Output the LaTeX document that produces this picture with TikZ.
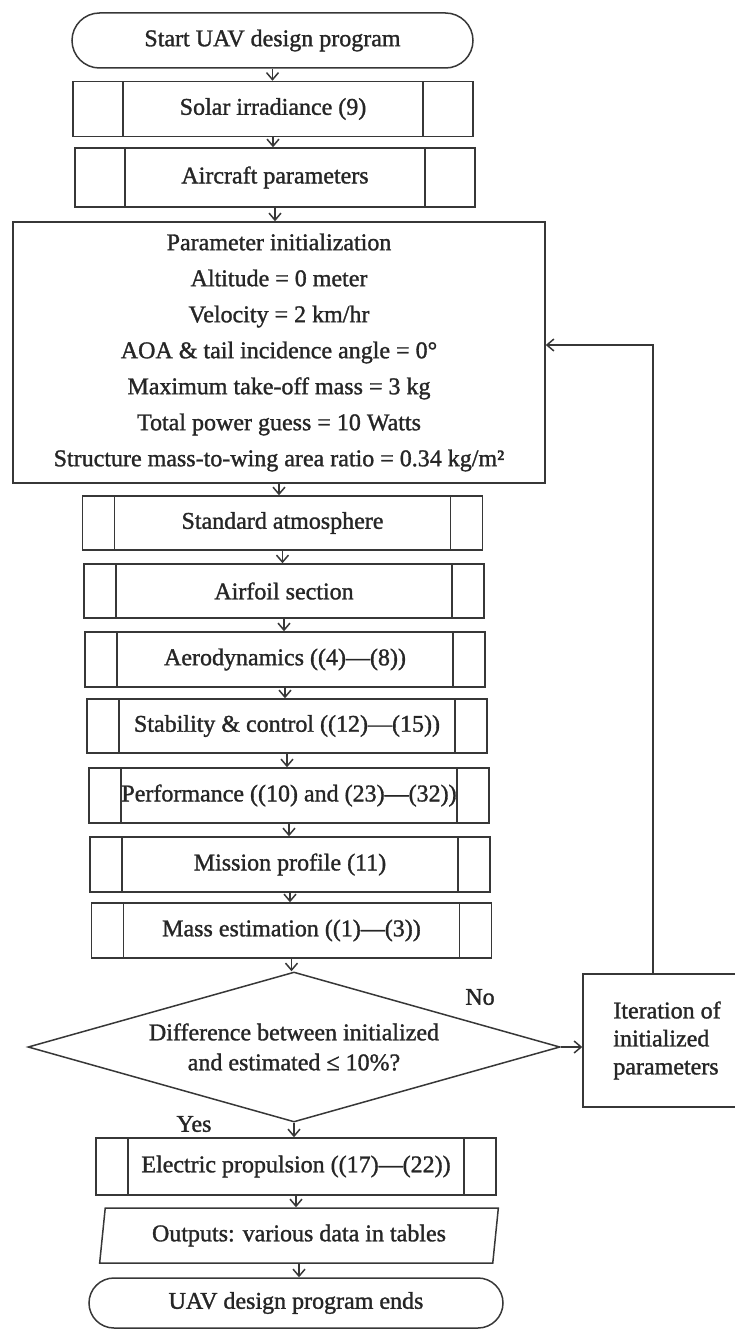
\documentclass[tikz,border=0pt]{standalone}
\usepackage{fontspec}
\setmainfont[FakeBold=1.3]{Liberation Serif}
\usetikzlibrary{arrows.meta, shapes.geometric, shapes.misc}

\begin{document}
\begin{tikzpicture}[
    x=1pt, y=-1pt,
    >={Straight Barb[length=7pt, width=12pt, line width=1.5pt]},
    every node/.style={font=\fontsize{24}{28}\selectfont, align=center, text=inkTone},
    procSide/.store in=\procside,
    procSide=32pt,
    term/.style={
      rounded rectangle, draw=lineTone, line width=1.5pt,
      minimum height=55pt, inner sep=0pt
    },
    proc/.style={
      rectangle, draw=lineTone, line width=1.5pt,
      minimum width=400pt, minimum height=55pt, inner sep=0pt,
      path picture={
        \draw[lineTone, line width=1.5pt]
          ([xshift=\procside]path picture bounding box.north west) -- ([xshift=\procside]path picture bounding box.south west)
          ([xshift=-\procside]path picture bounding box.north east) -- ([xshift=-\procside]path picture bounding box.south east);
      }
    },
    initBox/.style={rectangle, draw=lineTone, line width=1.5pt, inner sep=0pt},
    decision/.style={
      diamond, draw=lineTone, line width=1.5pt, aspect=3.5, inner sep=0pt,
      minimum width=532pt, minimum height=150pt
    },
    ioBox/.style={
      trapezium, trapezium left angle=79, trapezium right angle=101,
      trapezium stretches=true, draw=lineTone, line width=1.5pt,
      minimum width=400pt, minimum height=55pt, inner sep=0pt
    },
    arr/.style={->, draw=lineTone, line width=1.5pt}
  ]
    \definecolor{lineTone}{RGB}{55,55,55}
    \definecolor{inkTone}{RGB}{38,38,38}

    \useasboundingbox (0,0) rectangle (734,1330);

    \node[term, minimum width=401pt] (start) at (272.5,40.5) {Start UAV design program};
    \node[proc, procSide=50pt] (solar) at (273,109) {Solar irradiance (9)};
    \node[proc, procSide=50pt, minimum height=59pt] (aircraft) at (275,177.5) {Aircraft parameters};

    \node[initBox, minimum width=532pt, minimum height=261pt, font=\fontsize{24}{36}\selectfont] (param) at (279,352.5)
      {Parameter initialization\\
       Altitude = 0 meter\\
       Velocity = 2 km/hr\\
       AOA \& tail incidence angle = 0°\\
       Maximum take-off mass = 3 kg\\
       Total power guess = 10 Watts\\
       Structure mass-to-wing area ratio = 0.34 kg/m²};

    \node[proc, minimum height=54pt] (atmos) at (282.5,523) {Standard atmosphere};
    \node[proc, minimum height=54pt] (airfoil) at (284,591) {Airfoil section};
    \node[proc] (aero) at (285,659.5) {Aerodynamics ((4)—(8))};
    \node[proc, minimum height=54pt] (stab) at (287,726) {Stability \& control ((12)—(15))};
    \node[proc] (perf) at (289,795.5) {Performance ((10) and (23)—(32))};
    \node[proc] (mission) at (290,864.5) {Mission profile (11)};
    \node[proc] (mass) at (291.5,930.5) {Mass estimation ((1)—(3))};

    \node[decision, font=\fontsize{24}{30}\selectfont] (check) at (294,1047)
      {Difference between initialized\\ and estimated ≤ 10\%?};
    \node (noTag) at (480,997) {No};
    \node (yesTag) at (194,1124) {Yes};

    \node[initBox, align=left, minimum width=168pt, minimum height=133pt] (iter) at (667,1040.5)
      {Iteration of\\ initialized\\ parameters};

    \node[proc, minimum height=57pt] (prop) at (296,1166.5) {Electric propulsion ((17)—(22))};
    \node[ioBox] (outputs) at (299,1235.5) {Outputs: various data in tables};
    \node[term, minimum width=414pt, minimum height=50pt] (finish) at (296,1303) {UAV design program ends};

    % main flow
    \draw[arr] (start.south) -- (start.south |- solar.north);
    \draw[arr] (solar.south) -- (solar.south |- aircraft.north);
    \draw[arr] (aircraft.south) -- (aircraft.south |- param.north);
    \draw[arr] (param.south) -- (param.south |- atmos.north);
    \draw[arr] (atmos.south) -- (atmos.south |- airfoil.north);
    \draw[arr] (airfoil.south) -- (airfoil.south |- aero.north);
    \draw[arr] (aero.south) -- (aero.south |- stab.north);
    \draw[arr] (stab.south) -- (stab.south |- perf.north);
    \draw[arr] (perf.south) -- (perf.south |- mission.north);
    \draw[arr] (mission.south) -- (mission.south |- mass.north);
    \draw[arr] (mass.south) -- (mass.south |- check.north);
    \draw[arr] (check.south) -- (check.south |- prop.north);
    \draw[arr] (prop.south) -- (prop.south |- outputs.north);
    \draw[arr] (outputs.south) -- (outputs.south |- finish.north);

    % loop back
    \draw[arr] (check.east) -- (iter.west |- check.east);
    \coordinate (loopTop) at (653,345);
    \draw[arr] (iter.north -| loopTop) -- (loopTop) -- (param.east |- loopTop);
  \end{tikzpicture}
\end{document}
